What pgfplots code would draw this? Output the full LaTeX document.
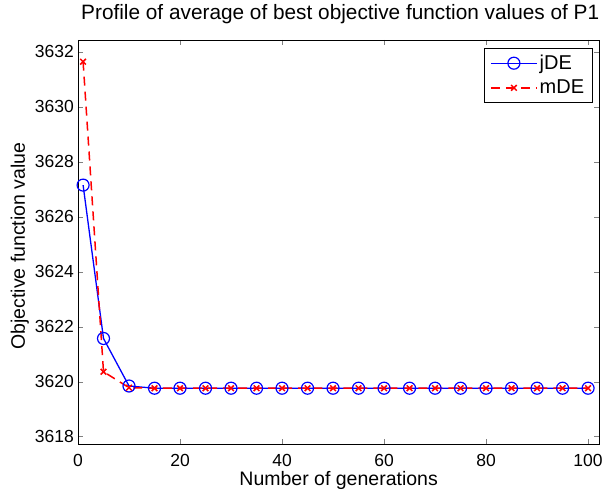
\documentclass[border=0pt]{standalone}
\usepackage{fontspec}
\setmainfont{Liberation Sans}
\usepackage{pgfplots}
\pgfplotsset{compat=1.18}
\begin{document}
\begin{tikzpicture}
\begin{axis}[
    scale only axis,
    width=521.3pt, height=404pt,
    xmin=0, xmax=102.2,
    ymin=3617.73, ymax=3632.43,
    xtick={0,20,...,100},
    ytick={3618,3620,...,3632},
    tick align=inside,
    major tick length=5pt,
    /pgf/number format/assume math mode=true,
    /pgf/number format/1000 sep={},
    tick label style={font=\fontsize{17.5}{19}\selectfont},
    yticklabel style={anchor=east, inner xsep=0pt, xshift=-4pt},
    xticklabel style={anchor=base, yshift=-22.7pt},
    title={Profile of average of best objective function values of P1},
    title style={font=\fontsize{20.8}{23}\selectfont, at={(0.503,1)}, anchor=base, yshift=14pt},
    xlabel={Number of generations},
    ylabel={Objective function value},
    label style={font=\fontsize{19.5}{21}\selectfont},
    xlabel style={at={(0.5,0)}, anchor=base, yshift=-41pt},
    ylabel style={at={(-0.1017,0.49)}, anchor=base},
    axis line style={line width=0.8pt},
    legend style={at={(1,1)}, anchor=north east, xshift=-7pt, yshift=-8pt,
        draw=black, font=\fontsize{20}{22}\selectfont,
        inner xsep=6pt, inner ysep=5pt, nodes={inner sep=2pt}, row sep=5pt},
    legend cell align=left,
    legend image code/.code={
        \draw[#1] (0pt,0pt) -- (46pt,0pt);
        \draw[#1, solid] plot[only marks] coordinates {(23pt,0pt)};
    },
]
\addplot[blue, line width=1.3pt, mark=o, mark size=6pt, mark options={solid, line width=1.2pt}] coordinates {
    (1,3627.15)(5,3621.57)(10,3619.84)(15,3619.76)(20,3619.76)(25,3619.76)
    (30,3619.76)(35,3619.76)(40,3619.76)(45,3619.76)(50,3619.76)(55,3619.76)
    (60,3619.76)(65,3619.76)(70,3619.76)(75,3619.76)(80,3619.76)(85,3619.76)
    (90,3619.76)(95,3619.76)(100,3619.76)};
\addplot[red, line width=1.5pt, dash pattern=on 9pt off 6pt, mark=x, mark size=4pt, mark options={solid, line width=1.5pt}] coordinates {
    (1,3631.64)(5,3620.36)(10,3619.78)(15,3619.76)(20,3619.76)(25,3619.76)
    (30,3619.76)(35,3619.76)(40,3619.76)(45,3619.76)(50,3619.76)(55,3619.76)
    (60,3619.76)(65,3619.76)(70,3619.76)(75,3619.76)(80,3619.76)(85,3619.76)
    (90,3619.76)(95,3619.76)(100,3619.76)};
\legend{jDE,mDE}
\end{axis}
\pgfresetboundingbox
\path[use as bounding box] ([shift={(-78pt,-46pt)}]current axis.south west)
    rectangle ([shift={(2.7pt,40pt)}]current axis.north east);
\end{tikzpicture}
\end{document}
